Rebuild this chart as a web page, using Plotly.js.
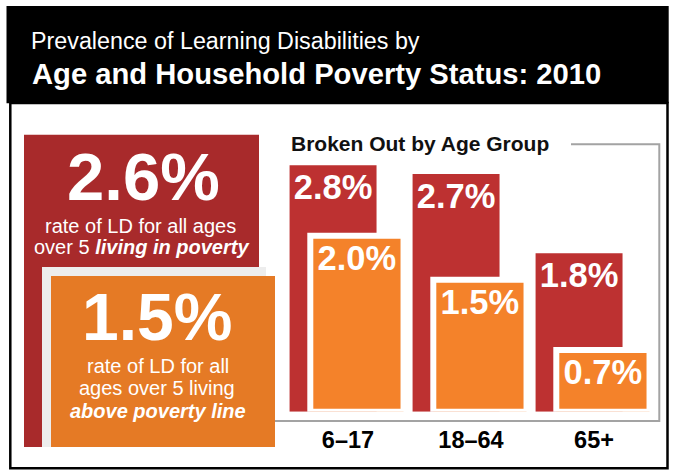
<!DOCTYPE html>
<html>
<head>
<meta charset="utf-8">
<script src="https://cdn.plot.ly/plotly-3.0.1.min.js"></script>
<style>html,body{margin:0;padding:0;background:#fff;}#chart{width:673px;height:470px;}</style>
</head>
<body>
<div id="chart"></div>
<script>
// ---- data ----
const ageGroups = ['6–17', '18–64', '65+'];
const livingInPoverty = [2.8, 2.7, 1.8];      // % with LD, living in poverty
const abovePovertyLine = [2.0, 1.5, 0.7];     // % with LD, above poverty line
const allAgesInPoverty = 2.6;                 // all ages over 5
const allAgesAbovePoverty = 1.5;
const titleLine1 = 'Prevalence of Learning Disabilities by';
const titleLine2 = 'Age and Household Poverty Status: 2010';
const subTitle = 'Broken Out by Age Group';

// ---- helpers (pixel -> paper) ----
const W = 673, H = 470;
const px = x => x / W;
const py = y => 1 - y / H;
const pct = v => v.toFixed(1) + '%';
const FONT = '"Liberation Sans", Arial, Helvetica, sans-serif';

const RED_BOX = '#a82a2b', ORANGE_BOX = '#e57a25';
const RED_BAR = '#bd3131', ORANGE_BAR = '#f4822a';

const barText = {family: FONT, size: 34.5, color: '#ffffff', weight: 700};

const traces = [
  {
    type: 'bar', x: ageGroups, y: livingInPoverty,
    offset: -0.475, width: 0.707,
    marker: {color: RED_BAR, line: {width: 0}},
    text: livingInPoverty.map(pct), textposition: 'inside', insidetextanchor: 'end',
    constraintext: 'none', textfont: barText, hoverinfo: 'skip'
  },
  {
    type: 'bar', x: ageGroups, y: abovePovertyLine,
    offset: -0.3065, width: 0.758,
    marker: {color: ORANGE_BAR, line: {width: 6, color: '#ffffff'}},
    text: abovePovertyLine.map(pct), textposition: 'inside', insidetextanchor: 'end',
    constraintext: 'none', textfont: barText, hoverinfo: 'skip'
  }
];

const rect = (x0, y0, x1, y1, fill, extra) => Object.assign({
  type: 'rect', xref: 'paper', yref: 'paper', layer: 'below',
  x0: px(x0), x1: px(x1), y0: py(y1), y1: py(y0),
  fillcolor: fill, line: {width: 0}
}, extra || {});

const shapes = [
  rect(10.3, 103, 667.5, 468.3, '#ffffff', {line: {width: 2.5, color: '#000000'}}),
  rect(6.5, 6, 668.7, 103.3, '#000000'),
  rect(24, 134.7, 259, 447, RED_BOX),
  rect(42, 267, 266, 447, '#ededed'),
  rect(51, 276, 275, 447, ORANGE_BOX),
  {
    type: 'path', xref: 'paper', yref: 'paper', layer: 'below',
    path: `M ${px(571)} ${py(144.3)} L ${px(659.3)} ${py(144.3)} L ${px(659.3)} ${py(421)} L ${px(275)} ${py(421)}`,
    line: {color: '#a3a3a3', width: 2}
  }
];

const ann = (text, x, y, size, opts) => Object.assign({
  text: text, xref: 'paper', yref: 'paper', x: px(x), y: py(y),
  xanchor: 'center', yanchor: 'middle', showarrow: false, borderpad: 0,
  font: {family: FONT, size: size, color: '#ffffff'}
}, opts || {});

const annotations = [
  ann(titleLine1, 30, 41, 23.3, {xanchor: 'left'}),
  ann('<b>' + titleLine2 + '</b>', 30.5, 74, 29.2, {xanchor: 'left'}),
  ann('<b>' + pct(allAgesInPoverty) + '</b>', 143, 176.5, 67),
  ann('rate of LD for all ages', 140.5, 226.5, 20),
  ann('over 5 <b><i>living in poverty</i></b>', 141, 247.3, 20),
  ann('<b>' + pct(allAgesAbovePoverty) + '</b>', 157, 316.5, 66),
  ann('rate of LD for all', 158.3, 365.5, 20),
  ann('ages over 5 living', 157, 388.3, 20),
  ann('<b><i>above poverty line</i></b>', 157.5, 411, 20),
  ann('<b>' + subTitle + '</b>', 289.5, 143.8, 21, {xanchor: 'left', font: {family: FONT, size: 21, color: '#111111'}})
];

const layout = {
  width: W, height: H,
  margin: {l: 0, r: 0, t: 0, b: 0, pad: 0},
  paper_bgcolor: '#ffffff', plot_bgcolor: 'rgba(0,0,0,0)',
  barmode: 'overlay', showlegend: false, hovermode: false,
  xaxis: {
    type: 'category', range: [-0.5, 2.5],
    domain: [px(286.5), px(655.5)],
    showgrid: false, zeroline: false, showline: false, ticks: '',
    ticklabelstandoff: 12,
    tickfont: {family: FONT, size: 23.5, color: '#000000', weight: 700}
  },
  yaxis: {
    range: [0, 3], domain: [py(411.7), py(147.7)],
    visible: false, showgrid: false, zeroline: false
  },
  shapes: shapes,
  annotations: annotations
};

Plotly.newPlot('chart', traces, layout, {displayModeBar: false, staticPlot: true});
</script>
</body>
</html>
